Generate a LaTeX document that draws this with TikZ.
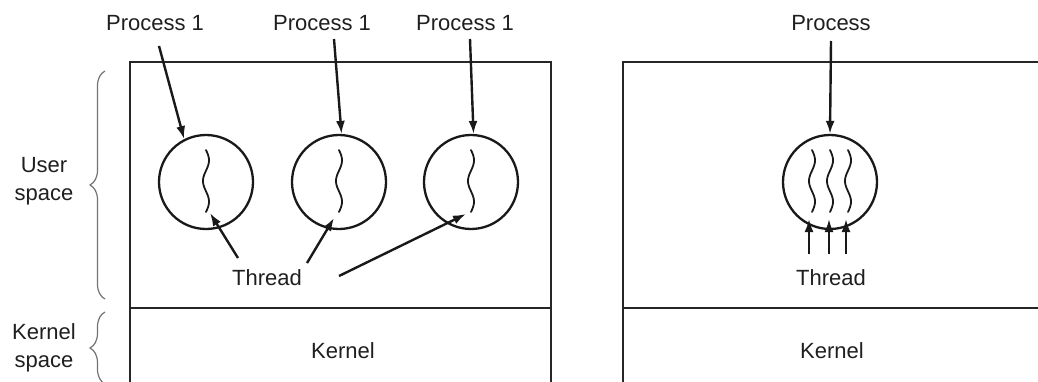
\documentclass[tikz,border=0pt]{standalone}
\usepackage{fontspec}
\setmainfont{Liberation Sans}
\usetikzlibrary{arrows.meta,decorations.pathreplacing}

\begin{document}
\begin{tikzpicture}[x=1pt,y=-1pt,
  lbl/.style={font=\fontsize{22}{28}\selectfont, text=black!88, inner sep=0pt, align=center},
  boxline/.style={draw=black!85, line width=2.4pt},
  proc/.style={circle, draw=black!90, line width=2.3pt, minimum size=94pt, inner sep=0pt},
  arr/.style={draw=black!90, line width=2.4pt, -{Latex[length=13pt,width=9pt]}},
  squig/.style={draw=black!90, line width=1.8pt, line cap=round},
  bracestyle/.style={draw=black!55, line width=1.2pt,
    decorate, decoration={brace, amplitude=15pt}}
]
\useasboundingbox (0,0) rectangle (1038,382);
\clip (0,0) rectangle (1038,382);

% ---------- left: three single-threaded processes ----------
\draw[boxline] (130,384) -- (130,62) -- (551,62) -- (551,384);
\draw[boxline] (130,308) -- (551,308);

\node[proc] (c1) at (206,182) {};
\node[proc] (c2) at (339,182) {};
\node[proc] (c3) at (471,182) {};

\foreach \cx in {206,339,471}
  \draw[squig] plot[domain=0:1, samples=50, smooth] ({\cx+3*sin(540*\x)}, {150+62*\x});

\node[lbl] (pl1) at (155,23) {Process 1};
\node[lbl] (pl2) at (322,23) {Process 1};
\node[lbl] (pl3) at (465,23) {Process 1};

\coordinate (s1) at (159,46);
\coordinate (s2) at (334,39);
\coordinate (s3) at (470,39);
\draw[arr] (s1) -- (c1.117);
\draw[arr] (s2) -- (c2.87);
\draw[arr] (s3) -- (c3.87);

\node[lbl] (thl) at (267,278) {Thread};
\coordinate (t1a) at (238,258); \coordinate (t1b) at (210,213);
\coordinate (t2a) at (307,263); \coordinate (t2b) at (334,218);
\coordinate (t3a) at (339,276); \coordinate (t3b) at (466,214);
\draw[arr] (t1a) -- (t1b);
\draw[arr] (t2a) -- (t2b);
\draw[arr] (t3a) -- (t3b);

\node[lbl] (kl) at (343,351) {Kernel};

% ---------- right: one multithreaded process ----------
\draw[boxline] (623,384) -- (623,62) -- (1040,62);
\draw[boxline] (623,308) -- (1040,308);

\node[proc] (c4) at (830,182) {};
\foreach \cx in {812,830,848}
  \draw[squig] plot[domain=0:1, samples=50, smooth] ({\cx+3*sin(540*\x)}, {150+62*\x});

\node[lbl] (pr) at (831,23) {Process};
\coordinate (s4) at (831,41);
\draw[arr] (s4) -- (c4.north);

\node[lbl] (thr) at (831,278) {Thread};
\foreach \ax/\nm in {809/ta,829/tb,846/tc} {
  \coordinate (\nm a) at (\ax,254);
  \coordinate (\nm b) at (\ax,219);
  \draw[arr] (\nm a) -- (\nm b);
}

\node[lbl] (kr) at (832,351) {Kernel};

% ---------- address-space braces ----------
\coordinate (ub) at (105,299);
\coordinate (ut) at (105,71);
\draw[bracestyle] (ub) -- (ut);
\node[lbl] (us) at (44,181) {User\\space};

\coordinate (kb) at (105,384);
\coordinate (kt) at (105,312);
\draw[bracestyle] (kb) -- (kt);
\node[lbl] (ks) at (44,348) {Kernel\\space};
\end{tikzpicture}
\end{document}
